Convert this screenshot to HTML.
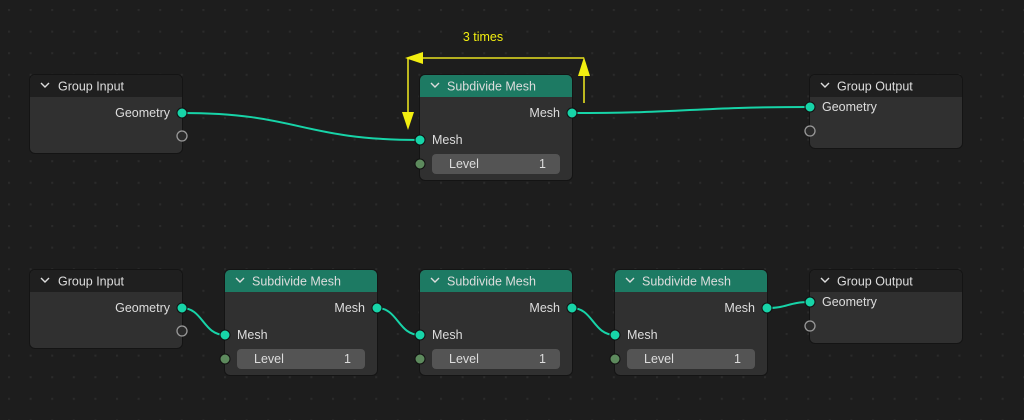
<!DOCTYPE html>
<html><head><meta charset="utf-8"><style>
html,body{margin:0;padding:0;background:#1d1d1d;}
svg{display:block;font-family:"Liberation Sans","DejaVu Sans",sans-serif;}
</style></head><body>
<svg width="1024" height="420" viewBox="0 0 1024 420" xmlns="http://www.w3.org/2000/svg">
<defs>
<pattern id="dots" x="8" y="9" width="21.6" height="21.6" patternUnits="userSpaceOnUse">
<rect x="0" y="0" width="2" height="2" fill="#2b2b2b"/>
</pattern>
<g id="gin">
<rect x="-1" y="-1" width="154" height="80" rx="6" fill="#141414"/>
<rect x="0" y="0" width="152" height="78" rx="5" fill="#303030"/>
<path d="M5 0H147A5 5 0 0 1 152 5V22H0V5A5 5 0 0 1 5 0Z" fill="#1f1f1f"/>
<path d="M11 8l4 4 4-4" stroke="#ddd" stroke-width="1.4" fill="none"/>
<text x="28" y="15.5" font-size="12.5" fill="#ddd">Group Input</text>
<text x="140" y="42" font-size="12.5" fill="#ddd" text-anchor="end">Geometry</text>
<circle cx="152" cy="38" r="5" fill="#17d4a8" stroke="#111" stroke-width="1"/>
<circle cx="152" cy="61" r="5" fill="#2a2a2a" stroke="#999" stroke-width="1.3"/>
</g>
<g id="gout">
<rect x="-1" y="-1" width="154" height="75" rx="6" fill="#141414"/>
<rect x="0" y="0" width="152" height="73" rx="5" fill="#303030"/>
<path d="M5 0H147A5 5 0 0 1 152 5V22H0V5A5 5 0 0 1 5 0Z" fill="#1f1f1f"/>
<path d="M11 8l4 4 4-4" stroke="#ddd" stroke-width="1.4" fill="none"/>
<text x="27" y="15.5" font-size="12.5" fill="#ddd">Group Output</text>
<text x="12" y="36" font-size="12.5" fill="#ddd">Geometry</text>
<circle cx="0" cy="32" r="5" fill="#17d4a8" stroke="#111" stroke-width="1"/>
<circle cx="0" cy="56" r="5" fill="#2a2a2a" stroke="#999" stroke-width="1.3"/>
</g>
<g id="sub">
<rect x="-1" y="-1" width="154" height="107" rx="6" fill="#141414"/>
<rect x="0" y="0" width="152" height="105" rx="5" fill="#303030"/>
<path d="M5 0H147A5 5 0 0 1 152 5V22H0V5A5 5 0 0 1 5 0Z" fill="#1d7a63"/>
<path d="M11 8l4 4 4-4" stroke="#ddd" stroke-width="1.4" fill="none"/>
<text x="27" y="15.5" font-size="12.5" fill="#ddd">Subdivide Mesh</text>
<text x="140" y="42" font-size="12.5" fill="#ddd" text-anchor="end">Mesh</text>
<circle cx="152" cy="38" r="5" fill="#17d4a8" stroke="#111" stroke-width="1"/>
<text x="12" y="69" font-size="12.5" fill="#ddd">Mesh</text>
<circle cx="0" cy="65" r="5" fill="#17d4a8" stroke="#111" stroke-width="1"/>
<rect x="12" y="79" width="128" height="20" rx="4" fill="#545454"/>
<text x="29" y="93" font-size="12.5" fill="#ddd">Level</text>
<text x="126" y="93" font-size="12.5" fill="#ddd" text-anchor="end">1</text>
<circle cx="0" cy="89" r="5" fill="#5d8a5d" stroke="#111" stroke-width="1"/>
</g>
</defs>
<rect width="1024" height="420" fill="#1d1d1d"/>
<rect width="1024" height="420" fill="url(#dots)"/>

<g stroke="#17d4a8" stroke-width="2" fill="none">
<path d="M182 113 C300 113, 300 140, 420 140"/>
<path d="M572 113 C690 113, 690 107, 810 107"/>
<path d="M182 308 C203 308, 203 335, 225 335"/>
<path d="M377 308 C398 308, 398 335, 420 335"/>
<path d="M572 308 C593 308, 593 335, 615 335"/>
<path d="M767 308 C788 308, 788 302, 810 302"/>
</g>
<use href="#gin" x="30" y="75"/>
<use href="#sub" x="420" y="75"/>
<use href="#gout" x="810" y="75"/>

<use href="#gin" x="30" y="270"/>
<use href="#sub" x="225" y="270"/>
<use href="#sub" x="420" y="270"/>
<use href="#sub" x="615" y="270"/>
<use href="#gout" x="810" y="270"/>

<g stroke="#e6e020" stroke-width="1.6" fill="none">
<path d="M584 103V70"/>
<path d="M584 58H414"/>
<path d="M408 58V118"/>
</g>
<g fill="#f2ee10">
<path d="M584 57L578 76H590Z"/>
<path d="M405 58L423 52V64Z"/>
<path d="M408 130L402 112H414Z"/>
</g>
<text x="483" y="41" font-size="12.5" fill="#f2ee10" text-anchor="middle">3 times</text>
</svg>
</body></html>
